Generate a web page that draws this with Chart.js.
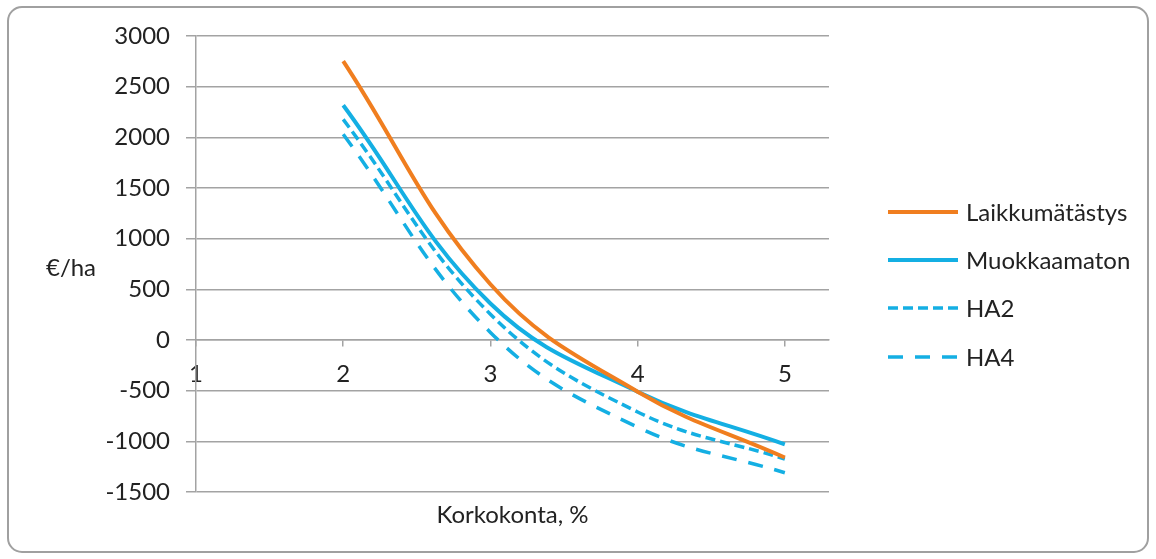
<!DOCTYPE html>
<html>
<head>
<meta charset="utf-8">
<title>Korkokonta</title>
<script src="https://cdn.jsdelivr.net/npm/chart.js@4.4.1/dist/chart.umd.min.js"></script>
<style>
  html, body { margin: 0; padding: 0; background: #fff; }
  #wrap { width: 1156px; height: 559px; }
</style>
</head>
<body>
<div id="wrap"><canvas id="chart" width="1156" height="559"></canvas></div>
<script>
// values (korkokanta % -> €/ha)
const xValues = [2, 3, 4, 5];
const laikkumatastys = [2753, 550, -510, -1160];
const muokkaamaton = [2316, 360, -510, -1030];
const ha2 = [2177, 255, -710, -1175];
const ha4 = [2030, 75, -860, -1310];

const xTicks = [1, 2, 3, 4, 5];
const yMin = -1500;
const yMax = 3000;
const yStep = 500;

const seriesNames = ['Laikkumätästys', 'Muokkaamaton', 'HA2', 'HA4'];
const xTitle = 'Korkokonta, %';
const yTitle = '€/ha';

const ORANGE = '#F07E1F';
const BLUE = '#14AFE3';
const FONT = 'Lato, "Open Sans", sans-serif';
const FONT_SIZE = 24;
const TEXT = '#222222';
const GRID = '#a3a3a3';

function points(ys) {
    return xValues.map((x, i) => ({ x: x, y: ys[i] }));
}

// frame, horizontal y title, x title and legend
const extrasPlugin = {
    id: 'extras',
    beforeDraw(chart) {
        const ctx = chart.ctx;
        ctx.save();
        ctx.fillStyle = '#fff';
        ctx.fillRect(0, 0, chart.width, chart.height);
        ctx.strokeStyle = '#a0a0a0';
        ctx.lineWidth = 2;
        ctx.beginPath();
        ctx.roundRect(8, 7, 1140, 545, 14);
        ctx.stroke();
        ctx.restore();
    },
    afterDraw(chart) {
        const ctx = chart.ctx;
        const area = chart.chartArea;
        ctx.save();
        ctx.font = FONT_SIZE + 'px ' + FONT;
        ctx.fillStyle = TEXT;

        // y title, horizontal
        ctx.textAlign = 'center';
        ctx.textBaseline = 'middle';
        ctx.fillText(yTitle, 71, (area.top + area.bottom) / 2 + 4);

        // x title under plot
        ctx.textBaseline = 'alphabetic';
        ctx.fillText(xTitle, (area.left + area.right) / 2, 523);

        // legend
        const rows = [212, 260, 308, 357];
        chart.data.datasets.forEach((ds, i) => {
            const y = rows[i];
            ctx.strokeStyle = ds.borderColor;
            ctx.lineWidth = ds.borderWidth;
            ctx.lineCap = 'butt';
            ctx.setLineDash(ds.borderDash || []);
            ctx.beginPath();
            ctx.moveTo(888, y);
            ctx.lineTo(958, y);
            ctx.stroke();
            ctx.setLineDash([]);
            ctx.fillStyle = TEXT;
            ctx.textAlign = 'left';
            ctx.textBaseline = 'middle';
            ctx.fillText(ds.label, 966, y + 1);
        });
        ctx.restore();
    }
};

const ctx = document.getElementById('chart').getContext('2d');

new Chart(ctx, {
    type: 'line',
    data: {
        datasets: [
            {
                label: seriesNames[0],
                data: points(laikkumatastys),
                borderColor: ORANGE,
                borderWidth: 4,
            },
            {
                label: seriesNames[1],
                data: points(muokkaamaton),
                borderColor: BLUE,
                borderWidth: 4,
            },
            {
                label: seriesNames[2],
                data: points(ha2),
                borderColor: BLUE,
                borderWidth: 3.5,
                borderDash: [10, 5],
            },
            {
                label: seriesNames[3],
                data: points(ha4),
                borderColor: BLUE,
                borderWidth: 3.5,
                borderDash: [15, 12],
            }
        ]
    },
    options: {
        responsive: false,
        animation: false,
        devicePixelRatio: 1,
        layout: {
            padding: { left: 0, right: 327, top: 36, bottom: 67 }
        },
        elements: {
            point: { radius: 0, hoverRadius: 0 },
            line: { tension: 0.4, fill: false, borderCapStyle: 'butt' }
        },
        plugins: {
            legend: { display: false },
            tooltip: { enabled: false }
        },
        scales: {
            x: {
                type: 'linear',
                position: { y: 0 },
                min: 1,
                max: 5.3,
                afterBuildTicks: (scale) => {
                    scale.ticks = xTicks.map(v => ({ value: v }));
                },
                grid: {
                    drawOnChartArea: false,
                    drawTicks: true,
                    tickLength: 6,
                    color: GRID,
                    lineWidth: 1.5
                },
                border: { color: GRID, width: 1.5 },
                ticks: {
                    color: TEXT,
                    font: { family: FONT, size: FONT_SIZE },
                    padding: 14,
                    maxRotation: 0,
                    autoSkip: false,
                    callback: (v) => String(v)
                }
            },
            y: {
                type: 'linear',
                min: yMin,
                max: yMax,
                afterFit: (scale) => { scale.width = 196; },
                ticks: {
                    stepSize: yStep,
                    color: TEXT,
                    font: { family: FONT, size: FONT_SIZE },
                    padding: 16,
                    callback: (v) => String(v)
                },
                grid: {
                    color: GRID,
                    lineWidth: 1.5,
                    tickLength: 10
                },
                border: { color: GRID, width: 1.5 }
            }
        }
    },
    plugins: [extrasPlugin]
});
</script>
</body>
</html>
